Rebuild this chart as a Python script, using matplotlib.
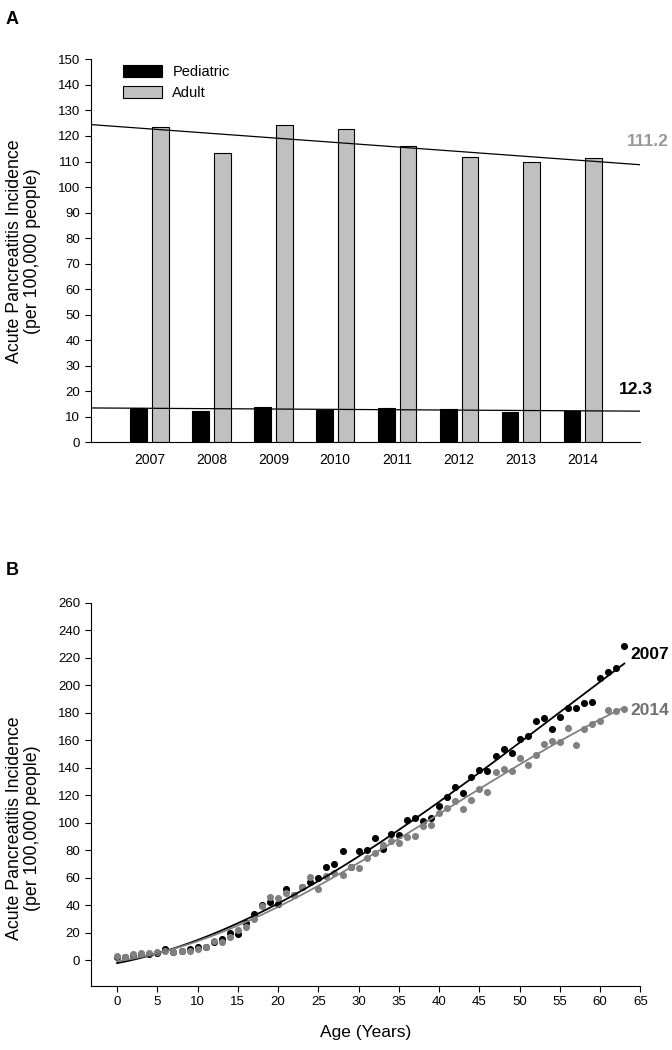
import numpy as np
import matplotlib.pyplot as plt

plt.rcParams['font.family'] = ['Liberation Sans', 'DejaVu Sans']

# Panel A: incidence per 100,000 by year
years = ["2007", "2008", "2009", "2010", "2011", "2012", "2013", "2014"]
pediatric = [13.3, 12.4, 13.7, 12.8, 13.3, 12.9, 11.8, 12.3]
adult = [123.7, 113.3, 124.3, 122.6, 116.0, 111.7, 109.9, 111.2]

# Panel B: incidence by age
ages = list(range(64))
inc_2007 = [2.5, 2.3, 4.0, 4.6, 4.8, 5.5, 7.8, 5.6, 6.5, 7.8, 9.7, 9.5,
            13.0, 15.5, 20.0, 19.0, 27.0, 33.5, 40.0, 42.0, 41.0, 52.0, 47.0, 53.0,
            57.0, 60.0, 67.5, 70.0, 79.6, 68.0, 79.6, 80.0, 89.0, 80.6, 91.7, 90.8,
            102.0, 103.4, 101.5, 103.4, 112.0, 118.4, 125.7, 121.8, 133.5, 138.3, 137.9, 148.5,
            153.9, 151.0, 160.7, 163.0, 174.3, 176.2, 168.4, 176.7, 183.5, 183.5, 186.9, 187.4,
            204.9, 209.7, 212.6, 228.6]
inc_2014 = [2.9, 2.4, 4.4, 4.9, 4.9, 5.8, 6.3, 5.8, 6.8, 6.3, 7.8, 9.7,
            14.0, 13.0, 16.5, 22.0, 24.0, 30.0, 39.0, 46.0, 45.0, 49.0, 47.0, 53.4,
            60.7, 52.0, 61.0, 63.0, 61.7, 68.0, 67.0, 74.0, 77.7, 83.5, 87.0, 85.4,
            89.8, 90.3, 97.6, 98.5, 107.0, 111.0, 116.0, 109.7, 116.5, 124.3, 122.3, 136.9,
            138.8, 137.9, 147.0, 141.7, 149.0, 157.3, 159.7, 158.3, 169.0, 156.3, 168.4, 171.8,
            174.3, 182.0, 181.0, 183.0]

GREY = "#808080"
YLABEL = "Acute Pancreatitis Incidence\n(per 100,000 people)"

fig = plt.figure(figsize=(6.72, 10.5), dpi=100)

# ---------------- Panel A ----------------
ax1 = fig.add_axes([0.135, 0.5788, 0.818, 0.3646])
x = np.arange(len(years))
w = 0.27
ax1.bar(x - 0.175, pediatric, w, color="black", edgecolor="black", linewidth=0.8, label="Pediatric")
ax1.bar(x + 0.175, adult, w, color="#c0c0c0", edgecolor="black", linewidth=0.8, label="Adult")

xl = np.array([-0.95, 7.93])
for vals in (adult, pediatric):
    k, b = np.polyfit(x, vals, 1)
    ax1.plot(xl, k * xl + b, color="black", linewidth=0.9)

ax1.set_xlim(xl)
ax1.set_ylim(0, 150)
ax1.set_yticks(range(0, 151, 10))
ax1.set_xticks(x)
ax1.set_xticklabels(years)
ax1.tick_params(axis="x", length=0, pad=8, labelsize=10)
ax1.tick_params(axis="y", length=4, width=0.8, labelsize=9.5)
for s in ("top", "right"):
    ax1.spines[s].set_visible(False)
ax1.set_ylabel(YLABEL, fontsize=12.8, linespacing=1.1)
ax1.yaxis.set_label_coords(-0.09, 0.5)

ax1.text(8.05, 117.7, str(adult[-1]), color="#999999", fontsize=12.5, fontweight="bold",
         ha="center", va="center", clip_on=False)
ax1.text(7.85, 20.8, str(pediatric[-1]), color="black", fontsize=12.5, fontweight="bold",
         ha="center", va="center", clip_on=False)

ax1.legend(loc="upper left", bbox_to_anchor=(0.045, 1.005), frameon=False, fontsize=10.5,
           handlelength=2.7, handleheight=0.95, borderpad=0, labelspacing=0.45, handletextpad=0.7)

fig.text(0.008, 0.99, "A", fontsize=13, fontweight="bold", va="top")

# ---------------- Panel B ----------------
ax2 = fig.add_axes([0.135, 0.0614, 0.818, 0.3646])
ages_arr = np.array(ages)
ax2.scatter(ages, inc_2007, s=26, color="black", zorder=2, linewidths=0)
ax2.scatter(ages, inc_2014, s=26, color=GREY, zorder=3, linewidths=0)
for vals, col in ((inc_2007, "black"), (inc_2014, GREY)):
    c = np.polyfit(ages_arr, vals, 3)
    xx = np.linspace(0, 63, 200)
    ax2.plot(xx, np.polyval(c, xx), color=col, linewidth=1.3, zorder=4)

ax2.set_xlim(-3.28, 65)
ax2.set_ylim(-18.5, 260)
ax2.set_xticks(range(0, 66, 5))
ax2.set_yticks(range(0, 261, 20))
ax2.tick_params(length=4, width=0.8, labelsize=9.5)
for s in ("top", "right"):
    ax2.spines[s].set_visible(False)
ax2.set_xlabel("Age (Years)", fontsize=12.5, labelpad=12)
ax2.set_ylabel(YLABEL, fontsize=12.8, linespacing=1.1)
ax2.yaxis.set_label_coords(-0.09, 0.41)

ax2.text(63.8, 222, "2007", color="black", fontsize=12.5, fontweight="bold", va="center", clip_on=False)
ax2.text(63.8, 181.4, "2014", color="#707070", fontsize=12.5, fontweight="bold", va="center", clip_on=False)

fig.text(0.008, 0.465, "B", fontsize=13, fontweight="bold", va="top")

fig.savefig("out.png", dpi=100)
